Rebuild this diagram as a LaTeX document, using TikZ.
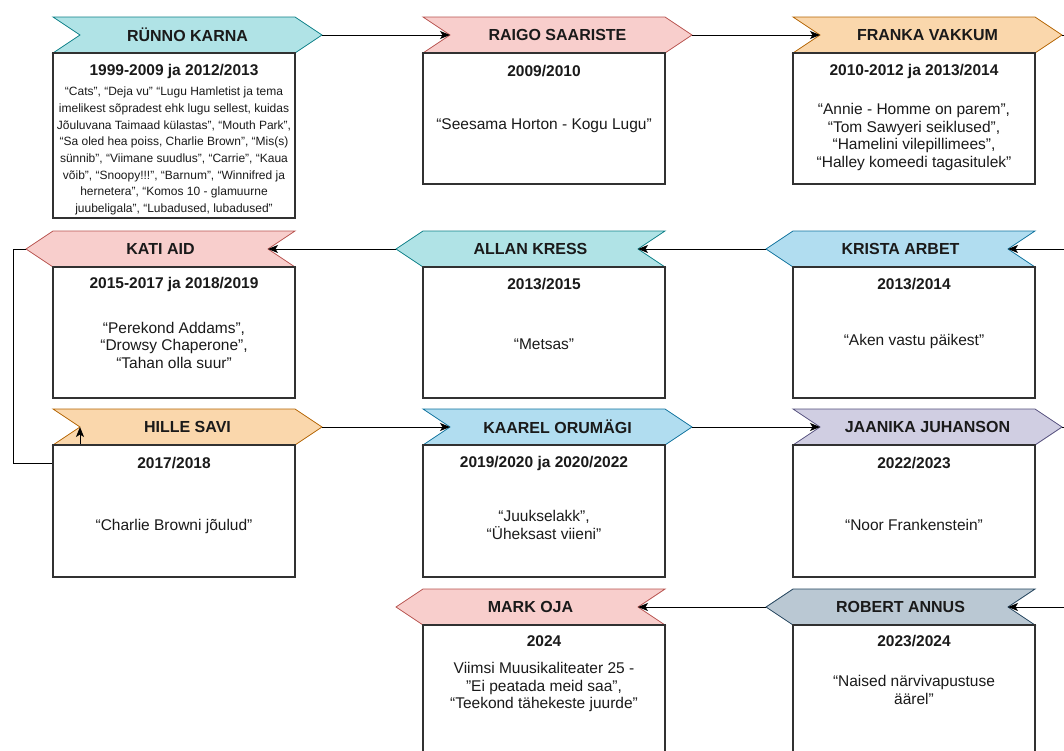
\documentclass[tikz,border=0pt]{standalone}
\usepackage{fontspec}
\setmainfont{Liberation Sans}
\usetikzlibrary{arrows.meta}

\definecolor{tealfill}{HTML}{B0E3E6}
\definecolor{tealline}{HTML}{0E8088}
\definecolor{redfill}{HTML}{F8CECC}
\definecolor{redline}{HTML}{B85450}
\definecolor{orangefill}{HTML}{FAD7AC}
\definecolor{orangeline}{HTML}{B46504}
\definecolor{bluefill}{HTML}{B1DDF0}
\definecolor{blueline}{HTML}{10739E}
\definecolor{purplefill}{HTML}{D0CEE2}
\definecolor{purpleline}{HTML}{56517E}
\definecolor{slatefill}{HTML}{BAC8D3}
\definecolor{slateline}{HTML}{23445D}
\definecolor{ink}{HTML}{1A1A1A}

\tikzset{
	banner/.style={line width=0.8pt},
	teal banner/.style={banner, fill=tealfill, draw=tealline},
	red banner/.style={banner, fill=redfill, draw=redline},
	orange banner/.style={banner, fill=orangefill, draw=orangeline},
	blue banner/.style={banner, fill=bluefill, draw=blueline},
	purple banner/.style={banner, fill=purplefill, draw=purpleline},
	slate banner/.style={banner, fill=slatefill, draw=slateline},
	cardbox/.style={draw=ink!90, line width=1.2pt, fill=white},
	title/.style={font=\fontsize{16}{19}\selectfont\bfseries, text=ink},
	years/.style={font=\fontsize{15.5}{18}\selectfont\bfseries, text=ink},
	plays/.style={font=\fontsize{15.5}{17.5}\selectfont, align=center, text=ink},
	smallplays/.style={font=\fontsize{12}{16.7}\selectfont, align=center, text=ink},
	link/.style={-{Stealth[length=10pt,width=8pt,inset=2.5pt]}, line width=0.9pt},
}

\begin{document}
\begin{tikzpicture}[x=1pt, y=-1pt]
	\useasboundingbox (0,0) rectangle (1064,750);
	
	\coordinate (runno-tip) at (322,35);
	\coordinate (raigo-notch) at (450,35);
	\coordinate (raigo-tip) at (692,35);
	\coordinate (franka-notch) at (820,35);
	\coordinate (franka-tip) at (1062,35);
	\coordinate (krista-notch) at (1008,249);
	\coordinate (krista-tip) at (766,249);
	\coordinate (allan-notch) at (638,249);
	\coordinate (allan-tip) at (396,249);
	\coordinate (kati-notch) at (268,249);
	\coordinate (kati-tip) at (26,249);
	\coordinate (kati-bend) at (13,463);
	\coordinate (hille-notch) at (80,427);
	\coordinate (hille-tip) at (322,427);
	\coordinate (kaarel-notch) at (450,427);
	\coordinate (kaarel-tip) at (692,427);
	\coordinate (jaanika-notch) at (820,427);
	\coordinate (jaanika-tip) at (1062,427);
	\coordinate (robert-notch) at (1008,607);
	\coordinate (robert-tip) at (766,607);
	\coordinate (mark-notch) at (638,607);
	\coordinate (mark-tip) at (396,607);
	
	% banners
	\draw[teal banner] (53,17) -- ++(242,0) -- ++(27,18) -- ++(-27,18) -- ++(-242,0) -- ++(27,-18) -- cycle;
	\draw[red banner] (423,17) -- ++(242,0) -- ++(27,18) -- ++(-27,18) -- ++(-242,0) -- ++(27,-18) -- cycle;
	\draw[orange banner] (793,17) -- ++(242,0) -- ++(27,18) -- ++(-27,18) -- ++(-242,0) -- ++(27,-18) -- cycle;
	
	\draw[blue banner] (793,231) -- ++(242,0) -- ++(-27,18) -- ++(27,18) -- ++(-242,0) -- ++(-27,-18) -- cycle;
	\draw[teal banner] (423,231) -- ++(242,0) -- ++(-27,18) -- ++(27,18) -- ++(-242,0) -- ++(-27,-18) -- cycle;
	\draw[red banner] (53,231) -- ++(242,0) -- ++(-27,18) -- ++(27,18) -- ++(-242,0) -- ++(-27,-18) -- cycle;
	
	\draw[orange banner] (53,409) -- ++(242,0) -- ++(27,18) -- ++(-27,18) -- ++(-242,0) -- ++(27,-18) -- cycle;
	\draw[blue banner] (423,409) -- ++(242,0) -- ++(27,18) -- ++(-27,18) -- ++(-242,0) -- ++(27,-18) -- cycle;
	\draw[purple banner] (793,409) -- ++(242,0) -- ++(27,18) -- ++(-27,18) -- ++(-242,0) -- ++(27,-18) -- cycle;
	
	\draw[slate banner] (793,589) -- ++(242,0) -- ++(-27,18) -- ++(27,18) -- ++(-242,0) -- ++(-27,-18) -- cycle;
	\draw[red banner] (423,589) -- ++(242,0) -- ++(-27,18) -- ++(27,18) -- ++(-242,0) -- ++(-27,-18) -- cycle;
	
	% connectors
	\draw[link] (runno-tip) -- (raigo-notch);
	\draw[link] (raigo-tip) -- (franka-notch);
	\draw[link] (franka-tip) -- ++(18,0) |- (krista-notch);
	\draw[link] (krista-tip) -- (allan-notch);
	\draw[link] (allan-tip) -- (kati-notch);
	\draw[link] (kati-tip) -| (kati-bend) -| (hille-notch);
	\draw[link] (hille-tip) -- (kaarel-notch);
	\draw[link] (kaarel-tip) -- (jaanika-notch);
	\draw[link] (jaanika-tip) -- ++(18,0) |- (robert-notch);
	\draw[link] (robert-tip) -- (mark-notch);
	
	% boxes
	\draw[cardbox] (53,53) rectangle (295,218);
	\draw[cardbox] (423,53) rectangle (665,184);
	\draw[cardbox] (793,53) rectangle (1035,184);
	\draw[cardbox] (793,267) rectangle (1035,398);
	\draw[cardbox] (423,267) rectangle (665,398);
	\draw[cardbox] (53,267) rectangle (295,398);
	\draw[cardbox] (53,445) rectangle (295,577);
	\draw[cardbox] (423,445) rectangle (665,577);
	\draw[cardbox] (793,445) rectangle (1035,577);
	\draw[cardbox] (793,625) rectangle (1035,770);
	\draw[cardbox] (423,625) rectangle (665,770);
	
	% names
	\node[title] (runno) at (187.5,35) {RÜNNO KARNA};
	\node[title] (raigo) at (557.5,35) {RAIGO SAARISTE};
	\node[title] (franka) at (927.5,35) {FRANKA VAKKUM};
	\node[title] (krista) at (900.5,249) {KRISTA ARBET};
	\node[title] (allan) at (530.5,249) {ALLAN KRESS};
	\node[title] (kati) at (160.5,249) {KATI AID};
	\node[title] (hille) at (187.5,427) {HILLE SAVI};
	\node[title] (kaarel) at (557.5,427) {KAAREL ORUMÄGI};
	\node[title] (jaanika) at (927.5,427) {JAANIKA JUHANSON};
	\node[title] (robert) at (900.5,607) {ROBERT ANNUS};
	\node[title] (mark) at (530.5,607) {MARK OJA};
	
	% years
	\node[years] (runno-years) at (174,71) {1999-2009 ja 2012/2013};
	\node[years] (raigo-years) at (544,71) {2009/2010};
	\node[years] (franka-years) at (914,71) {2010-2012 ja 2013/2014};
	\node[years] (krista-years) at (914,284) {2013/2014};
	\node[years] (allan-years) at (544,284) {2013/2015};
	\node[years] (kati-years) at (174,284) {2015-2017 ja 2018/2019};
	\node[years] (hille-years) at (174,463) {2017/2018};
	\node[years] (kaarel-years) at (544,463) {2019/2020 ja 2020/2022};
	\node[years] (jaanika-years) at (914,463) {2022/2023};
	\node[years] (robert-years) at (914,641) {2023/2024};
	\node[years] (mark-years) at (544,641) {2024};
	
	% plays
	\node[smallplays] (runno-plays) at (174,151) {“Cats”, “Deja vu” “Lugu Hamletist ja tema\\
		imelikest sõpradest ehk lugu sellest, kuidas\\
		Jõuluvana Taimaad külastas”, “Mouth Park”,\\
		“Sa oled hea poiss, Charlie Brown”, “Mis(s)\\
		sünnib”, “Viimane suudlus”, “Carrie”, “Kaua\\
		võib”, “Snoopy!!!”, “Barnum”, “Winnifred ja\\
		hernetera”, “Komos 10 - glamuurne\\
		juubeligala”, “Lubadused, lubadused”};
	\node[plays] (raigo-plays) at (544,126) {“Seesama Horton - Kogu Lugu”};
	\node[plays] (franka-plays) at (914,137) {“Annie - Homme on parem”,\\
		“Tom Sawyeri seiklused”,\\
		“Hamelini vilepillimees”,\\
		“Halley komeedi tagasitulek”};
	\node[plays] (krista-plays) at (914,341) {“Aken vastu päikest”};
	\node[plays] (allan-plays) at (544,344) {“Metsas”};
	\node[plays] (kati-plays) at (174,345) {“Perekond Addams”,\\
		“Drowsy Chaperone”,\\
		“Tahan olla suur”};
	\node[plays] (hille-plays) at (174,526) {“Charlie Browni jõulud”};
	\node[plays] (kaarel-plays) at (544,525) {“Juukselakk”,\\
		“Üheksast viieni”};
	\node[plays] (jaanika-plays) at (914,525) {“Noor Frankenstein”};
	\node[plays] (robert-plays) at (914,690) {“Naised närvivapustuse\\
		äärel”};
	\node[plays] (mark-plays) at (544,687) {Viimsi Muusikaliteater 25 -\\
		\char"22 Ei peatada meid saa\char"22,\\
		“Teekond tähekeste juurde”};
\end{tikzpicture}
\end{document}
